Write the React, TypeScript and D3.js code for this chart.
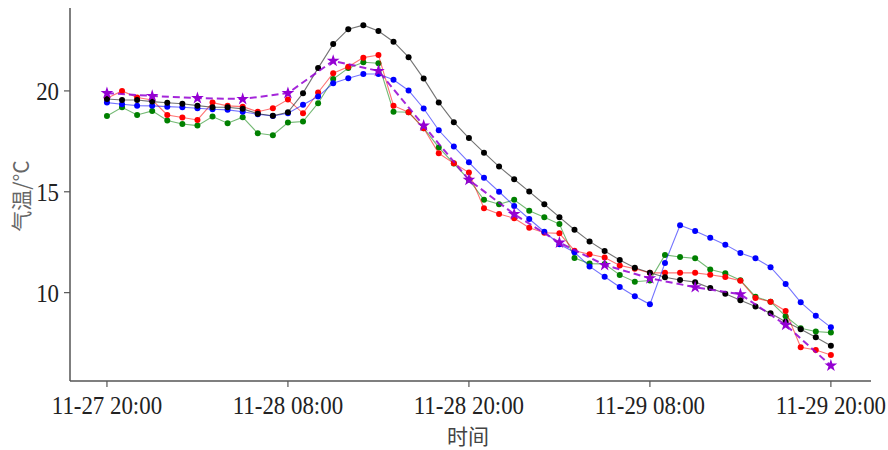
import React from "react";
import * as d3 from "d3";

const startTime = new Date(2021, 10, 27, 20, 0);
const hours = d3.range(49);
const purpleHours = d3.range(0, 49, 3);

const blackSeries = [19.6, 19.55, 19.55, 19.47, 19.41, 19.36, 19.27, 19.19, 19.19, 19.11, 18.87, 18.77, 18.94, 19.89, 21.13, 22.32, 23.06, 23.26, 22.97, 22.44, 21.67, 20.61, 19.43, 18.45, 17.66, 16.94, 16.25, 15.62, 15.01, 14.38, 13.74, 13.12, 12.54, 12.06, 11.62, 11.23, 10.99, 10.76, 10.63, 10.52, 10.23, 9.95, 9.62, 9.31, 8.98, 8.56, 8.18, 7.79, 7.37];
const blueSeries = [19.42, 19.34, 19.27, 19.26, 19.22, 19.19, 19.14, 19.09, 19.06, 18.97, 18.84, 18.76, 18.89, 19.31, 19.72, 20.38, 20.63, 20.84, 20.84, 20.55, 20.02, 19.13, 18.05, 17.24, 16.46, 15.69, 15.0, 14.3, 13.65, 13.02, 12.4, 12.0, 11.3, 10.79, 10.28, 9.82, 9.42, 11.47, 13.34, 13.06, 12.72, 12.38, 11.96, 11.7, 11.26, 10.43, 9.52, 8.86, 8.28];
const redSeries = [19.64, 20.0, 19.67, 19.55, 18.81, 18.68, 18.56, 19.42, 19.26, 19.22, 18.97, 19.14, 19.57, 18.89, 19.92, 20.88, 21.2, 21.65, 21.78, 19.27, 18.94, 18.15, 16.91, 16.41, 15.95, 14.18, 13.9, 13.69, 13.22, 12.97, 12.94, 12.08, 11.9, 11.74, 11.35, 11.18, 10.98, 10.98, 10.98, 10.98, 10.89, 10.77, 10.59, 9.73, 9.55, 9.09, 7.29, 7.16, 6.91];
const greenSeries = [18.76, 19.19, 18.81, 19.01, 18.53, 18.36, 18.28, 18.73, 18.4, 18.7, 17.9, 17.8, 18.43, 18.48, 19.39, 20.59, 21.13, 21.42, 21.37, 18.97, 18.94, 18.15, 17.2, 16.4, 15.6, 14.6, 14.38, 14.6, 14.06, 13.74, 13.4, 11.72, 11.44, 11.42, 10.88, 10.54, 10.6, 11.87, 11.77, 11.7, 11.15, 10.96, 10.62, 9.8, 9.55, 8.83, 8.23, 8.07, 8.02];
const purpleSeries = [19.89, 19.75, 19.64, 19.6, 19.89, 21.49, 20.99, 18.28, 15.59, 13.89, 12.48, 11.37, 10.71, 10.27, 9.92, 8.4, 6.38];

const yTicks = [10, 15, 20];
const xTickHours = [0, 12, 24, 36, 48];
const xTitle = "时间";
const yTitle = "气温/°C";

const W = 888;
const H = 450;

const timeAt = (h: number) => new Date(startTime.getTime() + h * 3600 * 1000);

export default function App() {
  const x = d3
    .scaleTime()
    .domain([timeAt(-2.45), timeAt(50.66)])
    .range([70, 871]);
  const y = d3.scaleLinear().domain([5.62, 24.11]).range([381, 8]);
  const fmt = d3.timeFormat("%m-%d %H:%M");

  const line = d3
    .line<[number, number]>()
    .x((d) => x(timeAt(d[0])))
    .y((d) => y(d[1]));

  const dotSeries = [
    { data: greenSeries, color: "#008000" },
    { data: redSeries, color: "#ff0000" },
    { data: blueSeries, color: "#0000ff" },
    { data: blackSeries, color: "#000000" },
  ];

  const star = d3.symbol().type(d3.symbolStar).size(50)();
  const purplePts: [number, number][] = purpleHours.map((h, i) => [h, purpleSeries[i]]);

  return (
    <svg
      width={W}
      height={H}
      style={{ position: "absolute", left: 0, top: 0, background: "#fff" }}
    >
      {dotSeries.map((s, si) => {
        const pts: [number, number][] = hours.map((h, i) => [h, s.data[i]]);
        return (
          <g key={si}>
            <path d={line(pts) || ""} fill="none" stroke={s.color} strokeOpacity={0.55} strokeWidth={1.1} />
            {pts.map((p, i) => (
              <circle key={i} cx={x(timeAt(p[0]))} cy={y(p[1])} r={3} fill={s.color} />
            ))}
          </g>
        );
      })}
      <g>
        <path d={line(purplePts) || ""} fill="none" stroke="#9400d3" strokeWidth={2} strokeDasharray="7,4" strokeOpacity={0.85} />
        {purplePts.map((p, i) => (
          <path key={i} d={star || ""} transform={`translate(${x(timeAt(p[0]))},${y(p[1])})`} fill="#9400d3" />
        ))}
      </g>
      {/* axes */}
      <line x1={70} x2={70} y1={8} y2={381} stroke="#555" strokeWidth={1.5} />
      <line x1={70} x2={871} y1={381} y2={381} stroke="#555" strokeWidth={1.5} />
      {yTicks.map((t) => (
        <g key={t}>
          <line x1={64} x2={70} y1={y(t)} y2={y(t)} stroke="#555" strokeWidth={1.2} />
          <text
            x={59}
            y={y(t)}
            dy="0.35em"
            textAnchor="end"
            fontFamily="Liberation Serif"
            fontSize={26}
            fill="#222"
            transform={`translate(59,${y(t)}) scale(0.88,1) translate(-59,${-y(t)})`}
          >
            {t}
          </text>
        </g>
      ))}
      {xTickHours.map((h) => {
        const px = x(timeAt(h));
        return (
          <g key={h}>
            <line x1={px} x2={px} y1={381} y2={387} stroke="#555" strokeWidth={1.2} />
            <text
              x={px}
              y={414}
              textAnchor="middle"
              fontFamily="Liberation Serif"
              fontSize={26}
              fill="#222"
              transform={`translate(${px},414) scale(0.88,1) translate(${-px},-414)`}
            >
              {fmt(timeAt(h))}
            </text>
          </g>
        );
      })}
      <text x={468} y={444} textAnchor="middle" fontFamily="Noto Sans CJK SC" fontSize={21} fill="#444">
        {xTitle}
      </text>
      <text
        transform="translate(29,196) rotate(-90)"
        textAnchor="middle"
        fontFamily="Noto Sans CJK SC"
        fontSize={21}
        fill="#666"
      >
        {yTitle}
      </text>
    </svg>
  );
}
